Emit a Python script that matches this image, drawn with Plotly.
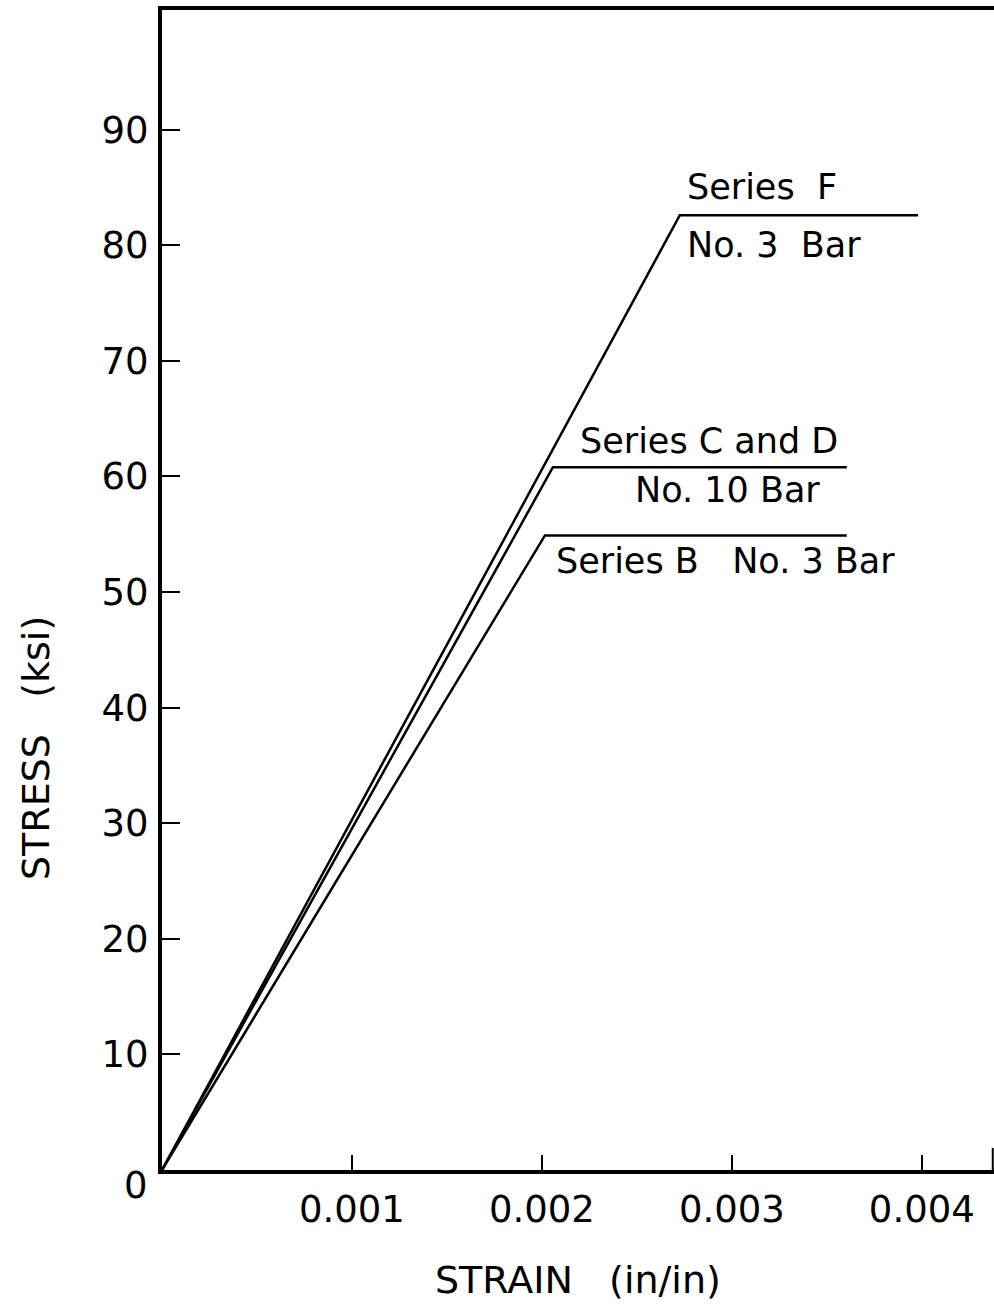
import plotly.graph_objects as go

# Idealised bilinear stress-strain curves for the reinforcing bars
series_names = ["Series F", "Series C and D", "Series B"]
strain_f = [0.0, 0.002726, 0.00398]
stress_f = [0.0, 82.6, 82.6]
strain_cd = [0.0, 0.002058, 0.003605]
stress_cd = [0.0, 60.8, 60.8]
strain_b = [0.0, 0.002016, 0.003605]
stress_b = [0.0, 54.9, 54.9]

x_ticks = [0.001, 0.002, 0.003, 0.004]
x_tick_text = ["0.001", "0.002", "0.003", "0.004"]
y_ticks = [10, 20, 30, 40, 50, 60, 70, 80, 90]
y_tick_text = ["10", "20", "30", "40", "50", "60", "70", "80", "90"]

FONT = "DejaVu Sans"
L, R, T, B = 162, 994, 10, 1170  # plot-area edges in pixels
plot_w, plot_h = R - L, B - T

fig = go.Figure()
for name, xs, ys in zip(series_names,
                        [strain_f, strain_cd, strain_b],
                        [stress_f, stress_cd, stress_b]):
    fig.add_trace(go.Scatter(x=xs, y=ys, mode="lines", name=name,
                             line=dict(color="black", width=2.5),
                             showlegend=False))

label_font = dict(family=FONT, size=35, color="black")
labels = [
    ("Series  F", 0.002753, 85.0),
    ("No. 3  Bar", 0.002753, 80.0),
    ("Series C and D", 0.00219, 63.1),
    ("No. 10 Bar", 0.00248, 58.8),
    ("Series B   No. 3 Bar", 0.002065, 52.7),
]
annotations = [
    dict(text=t, x=x, y=y, xref="x", yref="y", xanchor="left",
         yanchor="middle", showarrow=False, font=label_font)
    for t, x, y in labels
]
# origin label, set slightly below the axis line
annotations.append(dict(text="0", x=0, y=0, xref="x", yref="y",
                        xanchor="right", yanchor="middle", xshift=-12,
                        yshift=-15, showarrow=False,
                        font=dict(family=FONT, size=37, color="black")))
# axis titles
annotations.append(dict(text="STRAIN   (in/in)",
                        x=(578 - L) / plot_w, y=(B - 1280) / plot_h,
                        xref="paper", yref="paper", xanchor="center",
                        yanchor="middle", showarrow=False,
                        font=dict(family=FONT, size=38, color="black")))
annotations.append(dict(text="STRESS   (ksi)", textangle=-90,
                        x=(36 - L) / plot_w, y=(B - 748) / plot_h,
                        xref="paper", yref="paper", xanchor="center",
                        yanchor="middle", showarrow=False,
                        font=dict(family=FONT, size=38, color="black")))

fig.update_layout(
    width=994, height=1306,
    margin=dict(l=L, r=994 - R, t=T, b=1306 - B),
    paper_bgcolor="white", plot_bgcolor="white",
    annotations=annotations,
    shapes=[dict(type="line", xref="paper", yref="paper",
                 x0=0.9985, x1=0.9985, y0=0, y1=22 / plot_h,
                 line=dict(color="black", width=2))],
    xaxis=dict(range=[0, 0.00438], tickvals=x_ticks, ticktext=x_tick_text,
               ticks="inside", ticklen=15, tickwidth=2, tickcolor="black",
               showline=True, linewidth=4, linecolor="black", mirror=True,
               showgrid=False, zeroline=False, ticklabelstandoff=4,
               tickfont=dict(family=FONT, size=37, color="black")),
    yaxis=dict(range=[0, 100.35], tickvals=y_ticks, ticktext=y_tick_text,
               ticks="inside", ticklen=18, tickwidth=2, tickcolor="black",
               showline=True, linewidth=4, linecolor="black",
               showgrid=False, zeroline=False, ticklabelstandoff=2,
               tickfont=dict(family=FONT, size=37, color="black")),
)

fig.write_html("out.html")
